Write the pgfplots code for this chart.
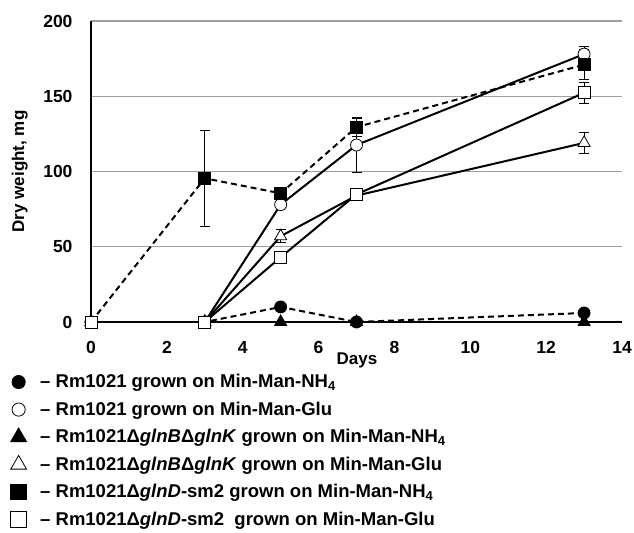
\documentclass[border=0pt]{standalone}
\usepackage{fontspec}
\setmainfont{Liberation Sans}
\usepackage{pgfplots}
\pgfplotsset{compat=1.18}
\begin{document}
\begin{tikzpicture}
\begin{axis}[
  scale only axis, width=531pt, height=301pt,
  xmin=0, xmax=14, ymin=0, ymax=200,
  axis x line=bottom, axis y line=left,
  axis line style={-, line width=2.2pt, black},
  xtick={0,2,...,14}, ytick={0,50,...,200},
  major tick length=0pt,
  ymajorgrids, grid style={black!38, line width=1.2pt},
  /pgf/number format/assume math mode=true,
  tick label style={font=\bfseries\fontsize{17.5}{20}\selectfont},
  label style={font=\bfseries\fontsize{17}{20}\selectfont},
  xticklabel style={yshift=-16pt},
  yticklabel style={xshift=-15pt},
  xlabel={Days}, ylabel={Dry weight, mg},
  xlabel style={at={(axis description cs:0.501,-0.128)}, anchor=center},
  ylabel style={at={(axis description cs:-0.134,0.5)}, anchor=center},
  every axis plot/.append style={black, line width=2pt},
  error bars/y dir=both, error bars/y explicit,
  error bars/error bar style={solid, line width=1pt, black},
  error bars/error mark options={rotate=90, mark size=5pt, line width=1pt, solid},
  legend image code/.code={%
    \pgfpathrectangle{\pgfpoint{-8.6pt}{-4.5pt}}{\pgfpoint{17.2pt}{17pt}}%
    \pgfusepath{use as bounding box}%
    \begin{pgfinterruptboundingbox}
    \draw[#1, only marks] plot coordinates {(0pt,1.5pt)};
    \end{pgfinterruptboundingbox}},
  legend cell align=left,
  legend style={draw=none, fill=none, inner sep=0pt, outer sep=0pt,
    at={(axis description cs:-0.1525,-0.163)}, anchor=north west,
    row sep=7pt,
    /tikz/every odd column/.append style={column sep=13pt},
    nodes={inner sep=0pt, text height=12pt, text depth=4pt},
    font=\bfseries\fontsize{18.5}{21}\selectfont},
]
\coordinate (bbll) at (axis description cs:-0.1714,-0.6977);
\coordinate (bbur) at (axis description cs:1.0226,1.0698);
% Rm1021 NH4 (filled circle, dashed)
\addplot[dash pattern=on 6pt off 4pt, mark=*, mark size=6pt, mark options={solid, fill=black, line width=0.8pt},
  legend image post style={every mark/.append style={scale=1.1}}]
  coordinates {(0,0) (3,0) (5,10) (7,0) (13,6)};
% Rm1021 Glu (open circle, solid)
\addplot[mark=*, mark size=6pt, mark options={solid, fill=white, line width=0.8pt},
  legend image post style={every mark/.append style={scale=1.1}}]
  coordinates {(0,0) +- (0,0) (3,0) +- (0,0) (5,78) +- (0,0) (7,117.6) +- (0,18) (13,178) +- (0,5)};
% glnB glnK NH4 (filled triangle, dashed)
\addplot[dash pattern=on 6pt off 4pt, mark=triangle*, mark size=7pt, mark options={solid, fill=black, line width=0.8pt},
  legend image post style={every mark/.append style={scale=1.3}}]
  coordinates {(0,0) (3,0) (5,0) (7,0) (13,0)};
% glnB glnK Glu (open triangle, solid)
\addplot[mark=triangle*, mark size=7pt, mark options={solid, fill=white, line width=0.8pt},
  legend image post style={every mark/.append style={scale=1.3}}]
  coordinates {(0,0) +- (0,0) (3,0) +- (0,0) (5,57) +- (0,4.5) (7,84) +- (0,0) (13,119) +- (0,7)};
% glnD-sm2 NH4 (filled square, dashed)
\addplot[dash pattern=on 6pt off 4pt, mark=square*, mark size=6pt, mark options={solid, fill=black, line width=0.8pt},
  legend image post style={every mark/.append style={scale=1.3}}]
  coordinates {(0,0) +- (0,0) (3,95.5) +- (0,32) (5,85.5) +- (0,0) (7,129.5) +- (0,6) (13,171) +- (0,10)};
% glnD-sm2 Glu (open square, solid)
\addplot[mark=square*, mark size=6pt, mark options={solid, fill=white, line width=0.8pt},
  legend image post style={every mark/.append style={scale=1.3}}]
  coordinates {(0,0) +- (0,0) (3,0) +- (0,0) (5,43) +- (0,0) (7,84.8) +- (0,0) (13,152.3) +- (0,7)};
\legend{
  {– Rm1021 grown on Min-Man-NH\textsubscript{4}},
  {– Rm1021 grown on Min-Man-Glu},
  {– Rm1021Δ\textit{glnB}Δ\textit{glnK} grown on Min-Man-NH\textsubscript{4}},
  {– Rm1021Δ\textit{glnB}Δ\textit{glnK} grown on Min-Man-Glu},
  {– Rm1021Δ\textit{glnD}-sm2 grown on Min-Man-NH\textsubscript{4}},
  {– Rm1021Δ\textit{glnD}-sm2\ \ grown on Min-Man-Glu}}
\end{axis}
\pgfresetboundingbox
\path[use as bounding box] (bbll) rectangle (bbur);
\end{tikzpicture}
\end{document}
